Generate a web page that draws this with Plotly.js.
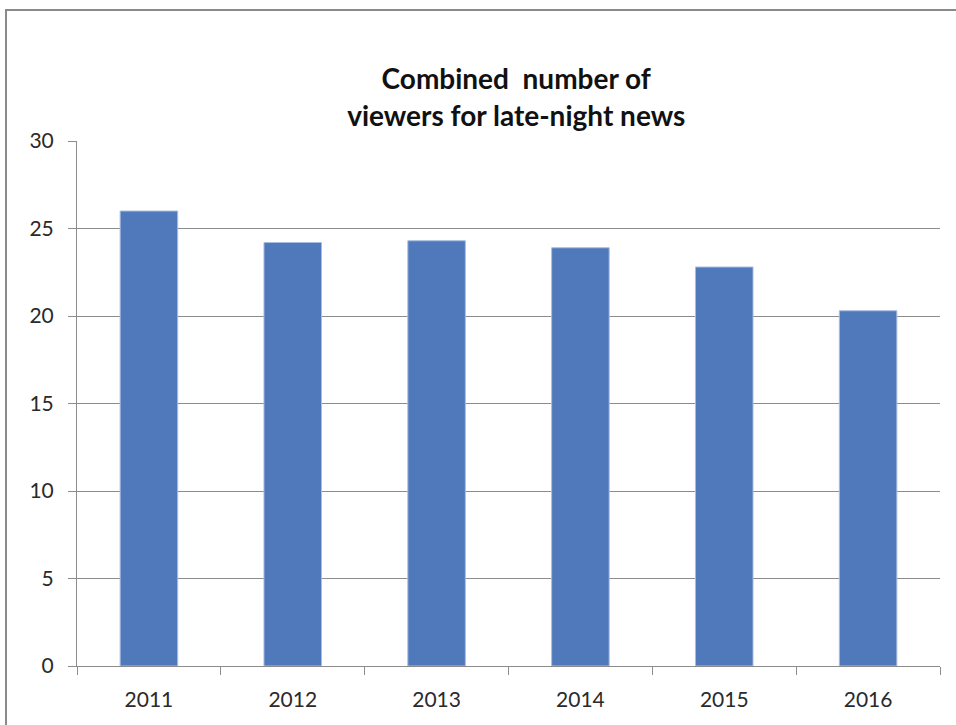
<!DOCTYPE html>
<html>
<head>
<meta charset="utf-8">
<script src="https://cdn.plot.ly/plotly-3.0.1.min.js"></script>
<style>
  html, body { margin: 0; padding: 0; background: #fff; overflow: hidden; }
  #frame { position: absolute; left: 5px; top: 9px; width: 1000px; height: 800px; border: 2px solid #8a8a8a; box-sizing: border-box; pointer-events: none; z-index: 10; }
  #chart { position: absolute; left: 0; top: 0; width: 956px; height: 725px; }
</style>
</head>
<body>
<div id="chart"></div>
<div id="frame"></div>
<script>
const years = ['2011', '2012', '2013', '2014', '2015', '2016'];
const viewers = [26.0, 24.2, 24.3, 23.9, 22.8, 20.3];
const yTicks = [0, 5, 10, 15, 20, 25, 30];
const chartTitle = 'Combined  number of<br>viewers for late-night news';

const trace = {
  type: 'bar',
  x: years,
  y: viewers,
  width: 0.4,
  marker: { color: '#5079bb', line: { color: '#a9bde0', width: 1 } },
  hoverinfo: 'x+y'
};

const layout = {
  width: 956,
  height: 725,
  margin: { l: 77, r: 16, t: 141, b: 59, pad: 0 },
  paper_bgcolor: '#ffffff',
  plot_bgcolor: '#ffffff',
  showlegend: false,
  font: { family: 'Lato, "Open Sans", sans-serif', color: '#262626' },
  title: {
    text: '<b>' + chartTitle + '</b>',
    font: { size: 28, color: '#111111', family: 'Lato, "Open Sans", sans-serif' },
    x: 0.54, xanchor: 'center',
    y: 0.877, yanchor: 'middle'
  },
  xaxis: {
    type: 'category',
    tickson: 'boundaries',
    ticks: 'outside',
    ticklen: 8,
    tickcolor: '#8c8c8c',
    tickwidth: 1,
    showline: true,
    linecolor: '#8c8c8c',
    linewidth: 1,
    showgrid: false,
    tickfont: { size: 21, color: '#2a2a2a' },
    ticklabelstandoff: 15,
    fixedrange: true
  },
  yaxis: {
    range: [0, 30],
    tickvals: yTicks,
    ticktext: yTicks.map(String),
    ticks: 'outside',
    ticklen: 8,
    tickcolor: '#8c8c8c',
    showline: true,
    linecolor: '#8c8c8c',
    linewidth: 1,
    showgrid: true,
    gridcolor: '#8c8c8c',
    gridwidth: 1,
    zeroline: false,
    tickfont: { size: 21, color: '#2a2a2a' },
    ticklabelstandoff: 10,
    fixedrange: true
  },
  bargap: 0.6
};

Plotly.newPlot('chart', [trace], layout, { displayModeBar: false, staticPlot: true });
</script>
</body>
</html>
